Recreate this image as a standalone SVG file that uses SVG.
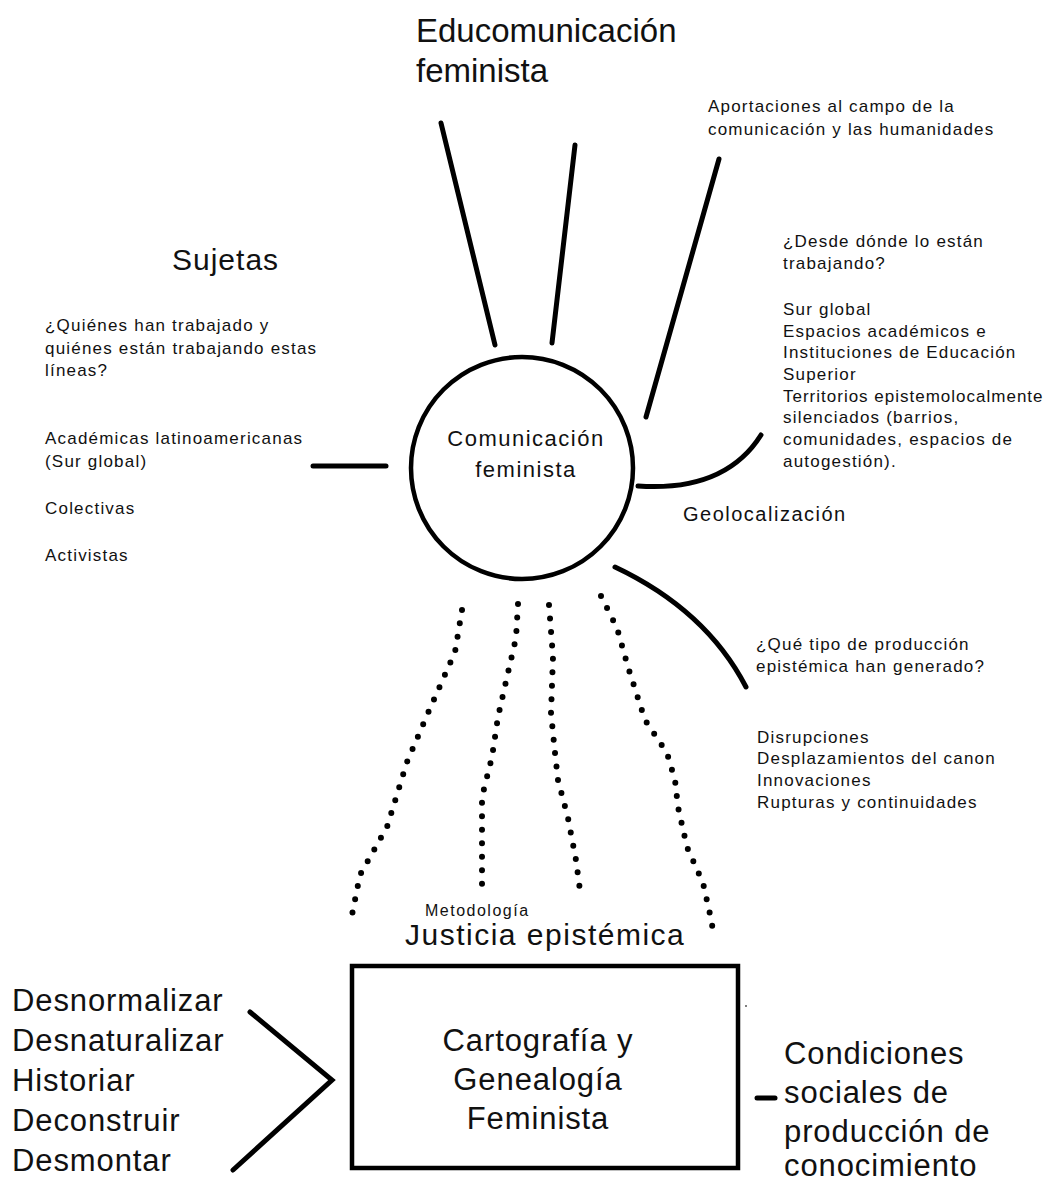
<svg xmlns="http://www.w3.org/2000/svg" width="1049" height="1182" viewBox="0 0 1049 1182">
<style>
text{font-family:"Liberation Sans",Arial,sans-serif;fill:#111}
.s{font-size:17px;letter-spacing:1.2px}
.m{font-size:20px;letter-spacing:1.5px}
.l{font-size:31px;letter-spacing:0.9px}
.t{font-size:33px}
.ln{fill:none;stroke:#000;stroke-width:5;stroke-linecap:round}
.dot{fill:none;stroke:#000;stroke-width:6;stroke-linecap:round;stroke-linejoin:round;stroke-dasharray:0 13.5}
</style>
<rect width="1049" height="1182" fill="#fff"/>
<g id="connectors">
<line class="ln" x1="441" y1="123" x2="495" y2="345"/>
<line class="ln" x1="575" y1="145" x2="552" y2="343"/>
<line class="ln" x1="719" y1="159" x2="646" y2="417"/>
<line class="ln" x1="313" y1="466" x2="386" y2="466"/>
<path class="ln" d="M638,486 Q725,492 761,435"/>
<path class="ln" d="M615,567 Q706,610 746,687"/>
<polyline class="dot" points="462,610 455,652 428,713 407,762 387,827 360,875 350,925"/>
<polyline class="dot" points="518,604 516,638 507,677 498,717 492,757 482,797 482,863 482,895"/>
<polyline class="dot" points="549,605 553,657 551,713 555,753 558,780 568,818 576,860 581,898"/>
<polyline class="dot" points="601,596 617,628 628,667 645,720 667,753 675,780 678,807 687,847 703,883 712,923 713,937"/>
<polyline class="ln" points="250,1012 332,1080 233,1170"/>
<line class="ln" x1="757" y1="1098" x2="775" y2="1098"/>
<circle cx="746" cy="1006" r="1" fill="#555"/>
</g>
<g id="center">
<circle cx="522" cy="468" r="111" fill="none" stroke="#000" stroke-width="4.5"/>
<text x="526" y="446" text-anchor="middle" style="font-size:22px;letter-spacing:1.5px">Comunicación</text>
<text x="526" y="477" text-anchor="middle" style="font-size:22px;letter-spacing:1.5px">feminista</text>
</g>
<g id="educomunicacion">
<text class="t" x="416" y="42">Educomunicación</text>
<text class="t" x="416" y="82">feminista</text>
</g>
<g id="aportaciones">
<text class="s" x="708" y="112">Aportaciones al campo de la</text>
<text class="s" x="708" y="135">comunicación y las humanidades</text>
</g>
<g id="geolocalizacion">
<text class="s" x="783" y="247">¿Desde dónde lo están</text>
<text class="s" x="783" y="269">trabajando?</text>
<text class="s" x="783" y="315">Sur global</text>
<text class="s" x="783" y="337">Espacios académicos e</text>
<text class="s" x="783" y="358">Instituciones de Educación</text>
<text class="s" x="783" y="380">Superior</text>
<text class="s" x="783" y="402" style="letter-spacing:1px">Territorios epistemolocalmente</text>
<text class="s" x="783" y="423">silenciados (barrios,</text>
<text class="s" x="783" y="445">comunidades, espacios de</text>
<text class="s" x="783" y="467">autogestión).</text>
<text class="m" x="683" y="521">Geolocalización</text>
</g>
<g id="sujetas">
<text x="172" y="270" style="font-size:30px;letter-spacing:1px">Sujetas</text>
<text class="s" x="45" y="331">¿Quiénes han trabajado y</text>
<text class="s" x="45" y="354">quiénes están trabajando estas</text>
<text class="s" x="45" y="376">líneas?</text>
<text class="s" x="45" y="444">Académicas latinoamericanas</text>
<text class="s" x="45" y="467">(Sur global)</text>
<text class="s" x="45" y="514">Colectivas</text>
<text class="s" x="45" y="561">Activistas</text>
</g>
<g id="produccion">
<text class="s" x="756" y="650">¿Qué tipo de producción</text>
<text class="s" x="756" y="672">epistémica han generado?</text>
<text class="s" x="757" y="743">Disrupciones</text>
<text class="s" x="757" y="764">Desplazamientos del canon</text>
<text class="s" x="757" y="786">Innovaciones</text>
<text class="s" x="757" y="808">Rupturas y continuidades</text>
</g>
<g id="justicia">
<text x="425" y="916" style="font-size:16px;letter-spacing:1.5px">Metodología</text>
<text x="405" y="945" style="font-size:30px;letter-spacing:1.5px">Justicia epistémica</text>
</g>
<g id="cartografia">
<rect x="352" y="966" width="386" height="202" fill="none" stroke="#000" stroke-width="4.5"/>
<text class="l" x="538" y="1051" text-anchor="middle">Cartografía y</text>
<text class="l" x="538" y="1090" text-anchor="middle">Genealogía</text>
<text class="l" x="538" y="1129" text-anchor="middle">Feminista</text>
</g>
<g id="verbos">
<text class="l" x="12" y="1011">Desnormalizar</text>
<text class="l" x="12" y="1051">Desnaturalizar</text>
<text class="l" x="12" y="1091">Historiar</text>
<text class="l" x="12" y="1131">Deconstruir</text>
<text class="l" x="12" y="1171">Desmontar</text>
</g>
<g id="condiciones">
<text class="l" x="784" y="1064">Condiciones</text>
<text class="l" x="784" y="1103">sociales de</text>
<text class="l" x="784" y="1142">producción de</text>
<text class="l" x="784" y="1176">conocimiento</text>
</g>
</svg>
